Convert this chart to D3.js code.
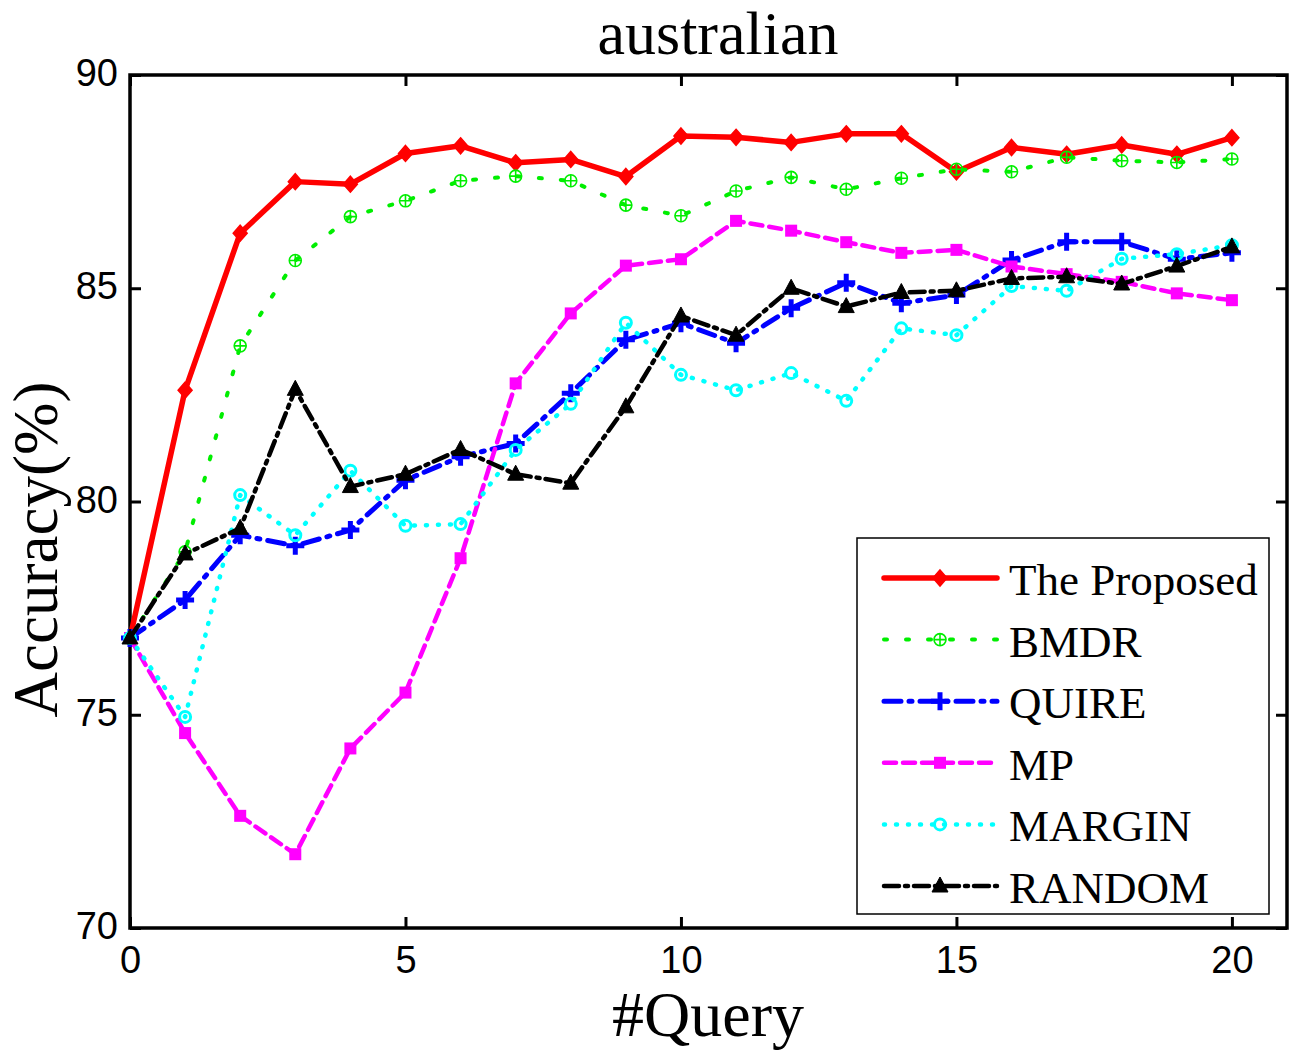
<!DOCTYPE html>
<html>
<head>
<meta charset="utf-8">
<script src="https://cdn.jsdelivr.net/npm/d3@7"></script>
<style>
  body { margin: 0; background: #fff; }
</style>
</head>
<body>
<div id="chart"></div>
<script>
// Chart size and plot box
const width = 1307;
const height = 1056;
const margin = {top: 75, right: 20, bottom: 128, left: 130};

// Data (accuracy in % for each query count)
const queries = d3.range(0, 21);
const seriesNames = ["The Proposed", "BMDR", "QUIRE", "MP", "MARGIN", "RANDOM"];
const proposed = [76.8, 82.61, 86.29, 87.5, 87.44, 88.16, 88.34, 87.94, 88.02, 87.62, 88.57, 88.54, 88.42, 88.62, 88.62, 87.73, 88.3, 88.14, 88.36, 88.14, 88.53];
const bmdr = [76.8, 78.82, 83.65, 85.65, 86.68, 87.05, 87.52, 87.63, 87.52, 86.95, 86.7, 87.28, 87.6, 87.32, 87.58, 87.79, 87.73, 88.07, 87.99, 87.95, 88.03];
const quire = [76.8, 77.69, 79.21, 78.96, 79.33, 80.5, 81.05, 81.36, 82.54, 83.79, 84.18, 83.71, 84.53, 85.13, 84.65, 84.84, 85.66, 86.09, 86.09, 85.68, 85.83];
const mp = [76.8, 74.57, 72.63, 71.73, 74.21, 75.52, 78.67, 82.77, 84.41, 85.53, 85.68, 86.58, 86.35, 86.08, 85.83, 85.9, 85.51, 85.33, 85.15, 84.88, 84.72];
const margin_ = [76.8, 74.95, 80.15, 79.21, 80.72, 79.43, 79.47, 81.21, 82.29, 84.19, 82.97, 82.61, 83.01, 82.36, 84.06, 83.9, 85.05, 84.94, 85.69, 85.8, 86.01];
const random = [76.8, 78.77, 79.37, 82.63, 80.35, 80.64, 81.22, 80.64, 80.43, 82.22, 84.35, 83.9, 85.0, 84.57, 84.9, 84.94, 85.23, 85.27, 85.1, 85.52, 85.97];
const xTicks = [0, 5, 10, 15, 20];
const yTicks = [70, 75, 80, 85, 90];

// Style for each series, MATLAB-like
const styles = [
  {values: proposed, color: "#ff0000", width: 5.5, dash: null, marker: "diamond"},
  {values: bmdr, color: "#00ee00", width: 4, dash: "3,19", marker: "circleplus"},
  {values: quire, color: "#0000ff", width: 5, dash: "17,8,3,8", marker: "plus"},
  {values: mp, color: "#ff00ff", width: 4.5, dash: "12,7", marker: "square"},
  {values: margin_, color: "#00ffff", width: 4.5, dash: "1,11", marker: "circle"},
  {values: random, color: "#000000", width: 4.5, dash: "15,6,3,6", marker: "triangle"}
];

const svg = d3.select("#chart")
  .append("svg")
  .attr("width", width)
  .attr("height", height);

const x = d3.scaleLinear().domain([0, 21]).range([margin.left, width - margin.right]);
const y = d3.scaleLinear().domain([70, 90]).range([height - margin.bottom, margin.top]);

// Axes with inward ticks on all four sides
const tickLen = 11;
const axisFont = "'Liberation Sans', Arial, sans-serif";

const gx = svg.append("g")
  .attr("transform", `translate(0,${y(70)})`)
  .call(d3.axisBottom(x).tickValues(xTicks).tickSize(-tickLen).tickPadding(18));
const gy = svg.append("g")
  .attr("transform", `translate(${x(0)},0)`)
  .call(d3.axisLeft(y).tickValues(yTicks).tickSize(-tickLen).tickPadding(12));
const gxTop = svg.append("g")
  .attr("transform", `translate(0,${y(90)})`)
  .call(d3.axisTop(x).tickValues(xTicks).tickSize(-tickLen).tickFormat(""));
const gyRight = svg.append("g")
  .attr("transform", `translate(${x(21)},0)`)
  .call(d3.axisRight(y).tickValues(yTicks).tickSize(-tickLen).tickFormat(""));

[gx, gy, gxTop, gyRight].forEach(g => {
  g.select(".domain").remove();
  g.selectAll(".tick line").attr("stroke", "#000").attr("stroke-width", 3);
  g.selectAll("text")
    .attr("font-family", axisFont)
    .attr("font-size", 38)
    .attr("fill", "#000");
});
gy.selectAll("text").attr("dy", "0.28em");
gx.selectAll("text").attr("dy", "0.72em");

// Plot frame
svg.append("rect")
  .attr("x", x(0))
  .attr("y", y(90))
  .attr("width", x(21) - x(0))
  .attr("height", y(70) - y(90))
  .attr("fill", "none")
  .attr("stroke", "#000")
  .attr("stroke-width", 3.5);

// Marker drawing, shared by plot and legend
function drawMarker(g, type, color, cx, cy) {
  if (type === "diamond") {
    g.append("path")
      .attr("d", `M${cx},${cy - 8}L${cx + 7},${cy}L${cx},${cy + 8}L${cx - 7},${cy}Z`)
      .attr("fill", color).attr("stroke", color).attr("stroke-width", 1.5);
  } else if (type === "circleplus") {
    g.append("circle").attr("cx", cx).attr("cy", cy).attr("r", 6)
      .attr("fill", "none").attr("stroke", color).attr("stroke-width", 1.6);
    g.append("path")
      .attr("d", `M${cx - 6},${cy}H${cx + 6}M${cx},${cy - 6}V${cy + 6}`)
      .attr("stroke", color).attr("stroke-width", 1.6);
  } else if (type === "plus") {
    g.append("path")
      .attr("d", `M${cx - 9},${cy}H${cx + 9}M${cx},${cy - 9}V${cy + 9}`)
      .attr("stroke", color).attr("stroke-width", 5);
  } else if (type === "square") {
    g.append("rect").attr("x", cx - 6).attr("y", cy - 6).attr("width", 12).attr("height", 12)
      .attr("fill", color);
  } else if (type === "circle") {
    g.append("circle").attr("cx", cx).attr("cy", cy).attr("r", 5.5)
      .attr("fill", "none").attr("stroke", color).attr("stroke-width", 3);
  } else if (type === "triangle") {
    g.append("path")
      .attr("d", `M${cx},${cy - 9}L${cx + 8},${cy + 6}L${cx - 8},${cy + 6}Z`)
      .attr("fill", color).attr("stroke", color).attr("stroke-width", 1);
  }
}

const line = d3.line()
  .x((d, i) => x(queries[i]))
  .y(d => y(d));

const plot = svg.append("g");
styles.forEach(s => {
  const g = plot.append("g");
  g.append("path")
    .datum(s.values)
    .attr("d", line)
    .attr("fill", "none")
    .attr("stroke", s.color)
    .attr("stroke-width", s.width)
    .attr("stroke-linejoin", "round")
    .attr("stroke-linecap", s.dash ? "round" : "butt")
    .attr("stroke-dasharray", s.dash);
  s.values.forEach((v, i) => drawMarker(g, s.marker, s.color, x(queries[i]), y(v)));
});

// Title and axis labels
const serif = "'Liberation Serif', 'Times New Roman', serif";
svg.append("text")
  .attr("x", 718)
  .attr("y", 54)
  .attr("text-anchor", "middle")
  .attr("font-family", serif)
  .attr("font-size", 62)
  .text("australian");

svg.append("text")
  .attr("x", 708)
  .attr("y", 1036)
  .attr("text-anchor", "middle")
  .attr("font-family", serif)
  .attr("font-size", 64)
  .text("#Query");

svg.append("text")
  .attr("transform", `translate(57,${(y(70) + y(90)) / 2 + 48}) rotate(-90)`)
  .attr("text-anchor", "middle")
  .attr("font-family", serif)
  .attr("font-size", 63)
  .text("Accuracy(%)");

// Legend
const legend = svg.append("g");
legend.append("rect")
  .attr("x", 857)
  .attr("y", 538)
  .attr("width", 412)
  .attr("height", 376)
  .attr("fill", "#fff")
  .attr("stroke", "#000")
  .attr("stroke-width", 1.5);

styles.forEach((s, i) => {
  const ly = 578 + i * 61.6;
  const g = legend.append("g");
  g.append("line")
    .attr("x1", 884).attr("x2", 997)
    .attr("y1", ly).attr("y2", ly)
    .attr("stroke", s.color)
    .attr("stroke-width", s.width)
    .attr("stroke-linecap", "round")
    .attr("stroke-dasharray", s.dash);
  drawMarker(g, s.marker, s.color, 940, ly);
  g.append("text")
    .attr("x", 1009)
    .attr("y", ly + 17)
    .attr("font-family", serif)
    .attr("font-size", 45)
    .text(seriesNames[i]);
});
</script>
</body>
</html>
